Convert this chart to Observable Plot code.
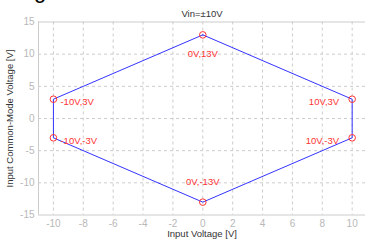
<!DOCTYPE html>
<html>
<head>
<meta charset="utf-8">
<script src="https://cdn.jsdelivr.net/npm/d3@7"></script>
<script src="https://cdn.jsdelivr.net/npm/@observablehq/plot@0.6"></script>
<style>
  html, body { margin: 0; padding: 0; background: #fff; overflow: hidden; }
  #wrap { position: relative; width: 365px; height: 246px; }
  #frag { position: absolute; z-index: 2; left: 34px; top: -22px; font: 22px "Liberation Sans", Arial, sans-serif; color: #000; }
</style>
</head>
<body>
<div id="wrap"><div id="frag">g</div></div>
<script>
// Data
const title = "Vin=±10V";
const xLabel = "Input Voltage [V]";
const yLabel = "Input Common-Mode Voltage [V]";
const pathX = [0, 10, 10, 0, -10, -10, 0];
const pathY = [13, 3, -3, -13, -3, 3, 13];
const pointX = [0, 10, 10, 0, -10, -10];
const pointY = [13, 3, -3, -13, -3, 3];
const pointLabels = ["0V,13V", "10V,3V", "10V,-3V", "0V,-13V", "-10V,-3V", "-10V,3V"];
const pointSide = ["top", "right", "right", "bottom", "left", "left"];
const xTicks = [-10, -8, -6, -4, -2, 0, 2, 4, 6, 8, 10];
const yTicks = [-15, -10, -5, 0, 5, 10, 15];

const path = pathX.map((x, i) => ({x, y: pathY[i]}));
const pts = pointX.map((x, i) => ({x, y: pointY[i], label: pointLabels[i], side: pointSide[i]}));

const font = "'Liberation Sans', Arial, sans-serif";
const grid = "#cccccc";
const red = "#ff3333";
const dark = "#333333";
const fmt = d => String(d);

const chart = Plot.plot({
  width: 365,
  height: 246,
  marginTop: 21.5,
  marginBottom: 31.5,
  marginLeft: 38,
  marginRight: 0,
  style: {fontFamily: font, fontSize: "9.5px", background: "white", overflow: "visible"},
  x: {domain: [-11, 11], range: [38, 366.6]},
  y: {domain: [-15, 15], range: [214.5, 21.5]},
  marks: [
    Plot.gridX(xTicks, {stroke: grid, strokeOpacity: 1, strokeDasharray: "3,3"}),
    Plot.gridY(yTicks.filter(d => Math.abs(d) < 15), {stroke: grid, strokeOpacity: 1, strokeDasharray: "3,3"}),
    Plot.ruleY([15, -15], {stroke: grid}),
    Plot.ruleX([-11], {stroke: grid}),
    Plot.axisX(xTicks, {tickSize: 0, tickPadding: 5, fill: "#b8b8b8", fontSize: 10, tickFormat: fmt, label: null}),
    Plot.axisY(yTicks, {tickSize: 0, tickPadding: 4, fill: "#b8b8b8", fontSize: 10, tickFormat: fmt, label: null}),
    Plot.text([xLabel], {frameAnchor: "bottom", dy: 22, fill: dark, fontSize: 9.5}),
    Plot.text([yLabel], {frameAnchor: "left", textAnchor: "middle", dx: -29, rotate: -90, fill: dark, fontSize: 9.5}),
    Plot.line(path, {x: "x", y: "y", stroke: "#3333ff", strokeWidth: 1}),
    Plot.dot(pts, {x: "x", y: "y", r: 3.3, stroke: red, strokeWidth: 1, fill: "none"}),
    Plot.text(pts.filter(d => d.side === "top"), {x: "x", y: "y", text: "label", dy: 19, fill: red, fontSize: 9.5}),
    Plot.text(pts.filter(d => d.side === "bottom"), {x: "x", y: "y", text: "label", dy: -20, fill: red, fontSize: 9.5}),
    Plot.text(pts.filter(d => d.side === "left"), {x: "x", y: "y", text: "label", dx: 7, dy: 3, textAnchor: "start", fill: red, fontSize: 9.5}),
    Plot.text(pts.filter(d => d.side === "right"), {x: "x", y: "y", text: "label", dx: -13, dy: 3, textAnchor: "end", fill: red, fontSize: 9.5}),
    Plot.text([title], {frameAnchor: "top", dy: -12, fill: dark, fontSize: 9.5})
  ]
});
document.getElementById("wrap").appendChild(chart);
chart.style.position = "absolute";
chart.style.left = "0";
chart.style.top = "0";
</script>
</body>
</html>
